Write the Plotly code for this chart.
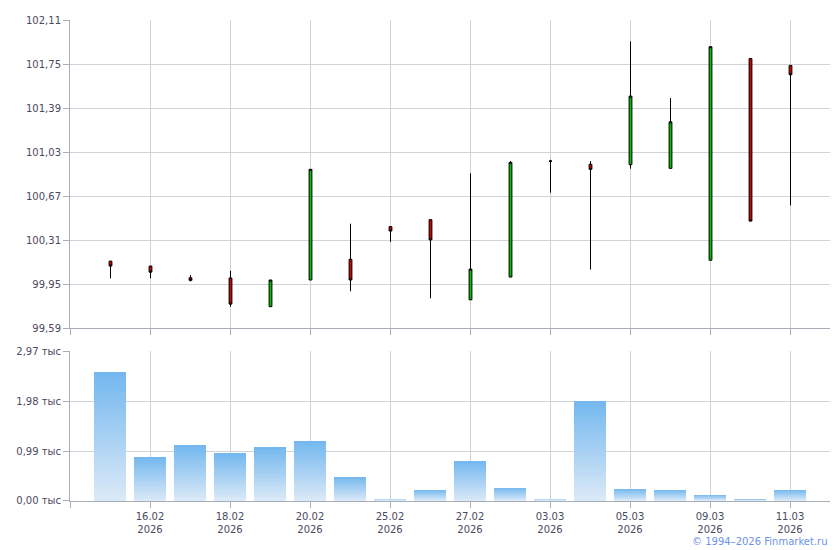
import plotly.graph_objects as go

# ---- data ----
dates = ["13.02", "16.02", "17.02", "18.02", "19.02", "20.02", "24.02", "25.02", "26.02",
         "27.02", "02.03", "03.03", "04.03", "05.03", "06.03", "09.03", "10.03", "11.03"]
year = "2026"
open_ = [100.14, 100.10, 100.004, 100.002, 99.768, 99.986, 100.155, 100.422, 100.479,
         99.824, 100.010, 100.957, 100.931, 100.928, 100.898, 100.147, 101.795, 101.739]
high = [100.14, 100.10, 100.026, 100.061, 99.986, 100.890, 100.446, 100.422, 100.479,
        100.858, 100.957, 100.968, 100.957, 101.935, 101.472, 101.892, 101.795, 101.739]
low = [100.00, 100.00, 99.974, 99.768, 99.768, 99.986, 99.894, 100.298, 99.837,
       99.824, 100.010, 100.699, 100.071, 100.895, 100.898, 100.147, 100.467, 100.596]
close = [100.10, 100.05, 99.983, 99.789, 99.986, 100.890, 99.986, 100.386, 100.314,
         100.075, 100.947, 100.957, 100.890, 101.488, 101.278, 101.892, 100.467, 101.663]
volume = [2546, 866, 1100, 944, 1061, 1178, 475, 45, 221,
          787, 260, 45, 1985, 240, 221, 123, 25, 221]

price_ticks = [99.59, 99.95, 100.31, 100.67, 101.03, 101.39, 101.75, 102.11]
price_labels = ["99,59", "99,95", "100,31", "100,67", "101,03", "101,39", "101,75", "102,11"]
vol_ticks = [0, 990, 1980, 2970]
vol_labels = ["0,00 тыс", "0,99 тыс", "1,98 тыс", "2,97 тыс"]

# ---- styling ----
FONT = "DejaVu Sans"
TXT = "#4a4a5e"
GRID = "#ced3d9"
AXIS = "#a9adb8"
TOP_BLUE = (0x74, 0xb8, 0xef)
BOT_BLUE = (0xdd, 0xea, 0xf7)

xs = list(range(len(dates)))
tickvals = [-1] + xs[1::2]
ticktext = [""] + [f"{dates[i]}<br>{year}" for i in xs[1::2]]

fig = go.Figure()

fig.add_trace(go.Candlestick(
    x=xs, open=open_, high=high, low=low, close=close,
    increasing=dict(fillcolor="#00c000", line=dict(color="black", width=1)),
    decreasing=dict(fillcolor="#d00000", line=dict(color="black", width=1)),
    whiskerwidth=0, xaxis="x", yaxis="y", showlegend=False, hoverinfo="skip",
))

# gradient volume bars (overlaid layers, each scaled to the bar's own height)
N = 40
for k in range(N):
    f = (N - k) / N
    c = tuple(round(BOT_BLUE[j] + (TOP_BLUE[j] - BOT_BLUE[j]) * f) for j in range(3))
    fig.add_trace(go.Bar(
        x=xs, y=[v * f for v in volume], width=0.8,
        marker=dict(color="rgb(%d,%d,%d)" % c, line=dict(width=0)),
        xaxis="x2", yaxis="y2", showlegend=False, hoverinfo="skip",
    ))

axis_common = dict(showline=True, linecolor=AXIS, linewidth=1, ticks="outside",
                   tickcolor=AXIS, ticklen=6, showgrid=True, gridcolor=GRID, gridwidth=1,
                   zeroline=False, tickfont=dict(family=FONT, size=10, color=TXT))

# page body has an 8px default margin; figure size/margins compensate for it
fig.update_layout(
    width=832, height=542,
    margin=dict(l=62, r=10, t=6, b=49),
    paper_bgcolor="white", plot_bgcolor="white",
    barmode="overlay", bargap=0, boxgap=0.9,
    # half-pixel offset keeps 1px wicks crisp
    xaxis=dict(domain=[0, 1], anchor="y", range=[-1.0125, 17.9875], tickvals=tickvals,
               ticktext=ticktext, showticklabels=False, rangeslider=dict(visible=False),
               **axis_common),
    yaxis=dict(domain=[0.3587, 1], anchor="x", range=[99.59, 102.11],
               tickvals=price_ticks, ticktext=price_labels, **axis_common),
    xaxis2=dict(domain=[0, 1], anchor="y2", range=[-1, 18],
                tickvals=tickvals, ticktext=ticktext, **axis_common),
    yaxis2=dict(domain=[0, 0.3115], anchor="x2", range=[0, 2970],
                tickvals=vol_ticks, ticktext=vol_labels, **axis_common),
    annotations=[dict(text="© 1994–2026 Finmarket.ru", xref="paper", yref="paper",
                      x=1.0, y=-0.084, xanchor="right", yanchor="middle", showarrow=False,
                      font=dict(family=FONT, size=10, color="#6c92e6"))],
)

fig.write_html("out.html")
